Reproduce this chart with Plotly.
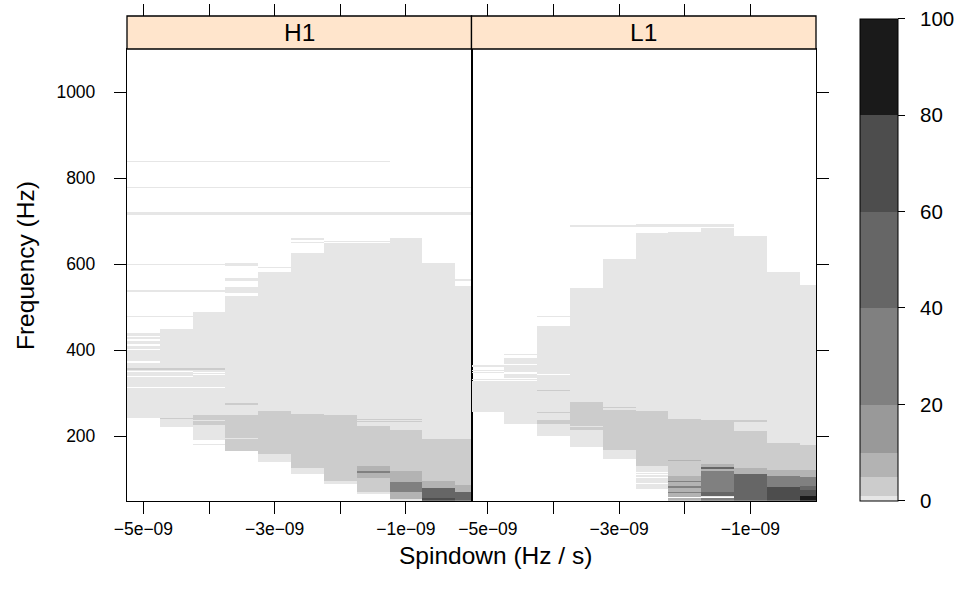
import numpy as np
import plotly.graph_objects as go

# ---------------- data ----------------
detectors = ["H1", "L1"]
spindown = [-5.0e-9, -4.5e-9, -4.0e-9, -3.5e-9, -3.0e-9, -2.5e-9,
            -2.0e-9, -1.5e-9, -1.0e-9, -0.5e-9, 0.0]
x_limits = [-5.25e-9, 0.0]
freq_min, freq_max, freq_step = 50, 1100, 1
freq_ticks = [200, 400, 600, 800, 1000]
spin_ticks = [-5e-9, -4e-9, -3e-9, -2e-9, -1e-9]
spin_ticklabels = ["\u22125e\u221209", "", "\u22123e\u221209", "", "\u22121e\u221209"]
level_breaks = [0, 1, 5, 10, 20, 40, 60, 80, 100]
level_colors = ["#E6E6E6", "#CCCCCC", "#B3B3B3", "#999999",
                "#808080", "#666666", "#4D4D4D", "#1A1A1A"]
colorbar_ticks = [0, 20, 40, 60, 80, 100]

# per spindown column: (freq_lo, freq_hi, value %) ; None = no data
H1_columns = [
    [(243, 400, 0.5), (404, 410, 0.5), (415, 422, 0.5), (426, 430, 0.5), (434, 441, 0.5),
     (374, 376, None), (370, 372, None), (349, 351, None), (337, 341, None)],
    [(222, 450, 0.5), (349, 351, None), (337, 341, None), (240, 243, 3)],
    [(192, 489, 0.5), (180, 182, 0.5), (227, 249, 3), (237, 239, 0.5),
     (342, 345, None), (348, 350, None)],
    [(165, 527, 0.5), (534, 547, 0.5), (562, 568, 0.5), (596, 603, 0.5),
     (274, 278, 3), (165, 250, 3), (242, 243, None), (236, 237, 0.5),
     (229, 230, 0.5), (221, 222, 0.5), (207, 209, 0.5), (195, 197, 0.5)],
    [(141, 582, 0.5), (591, 594, 0.5), (160, 260, 3)],
    [(113, 626, 0.5), (650, 652, 0.5), (656, 661, 0.5), (127, 253, 3)],
    [(90, 649, 0.5), (652, 654, 0.5), (97, 250, 3)],
    [(66, 649, 0.5), (652, 654, 0.5), (70, 225, 3), (239, 241, 3), (233, 235, 3),
     (104, 132, 7), (115, 119, 30)],
    [(50, 661, 0.5), (55, 216, 3), (239, 241, 3), (233, 235, 3),
     (95, 120, 7), (72, 95, 30), (55, 72, 7)],
    [(50, 603, 0.5), (50, 195, 3), (81, 97, 7), (58, 81, 50), (50, 58, 70)],
    [(50, 550, 0.5), (561, 566, 0.5), (50, 195, 3), (72, 88, 7), (50, 72, 50)],
]
# lines spanning several columns: (freq_lo, freq_hi, value, first_col, last_col)
H1_wide = [
    (838, 840, 0.5, 0, 7),
    (778, 780, 0.5, 0, 10),
    (714, 721, 0.5, 0, 10),
    (598, 601, 0.5, 0, 2),
    (536, 540, 0.5, 0, 2),
    (477, 480, 0.5, 0, 1),
    (379, 381, None, 0, 3),
    (313, 315, None, 0, 2),
    (355, 360, 3, 0, 2),
]

L1_columns = [
    [(256, 333, 0.5), (353, 355, 0.5), (362, 365, 0.5), (347, 349, 0.5), (300, 302, None)],
    [(230, 383, 0.5), (390, 392, 0.5), (366, 368, None), (358, 360, None),
     (346, 349, None), (334, 336, None)],
    [(201, 457, 0.5), (478, 480, 0.5), (342, 344, None), (305, 307, 3),
     (255, 257, 3), (230, 239, 3)],
    [(176, 545, 0.5), (225, 280, 3), (223, 225, 0.5), (215, 222, 3)],
    [(148, 612, 0.5), (267, 269, 3), (169, 262, 3)],
    [(79, 672, 0.5), (132, 260, 3), (116, 118, None), (110, 113, None),
     (104, 106, None), (90, 92, None)],
    [(50, 675, 0.5), (107, 241, 3), (143, 146, 7), (50, 107, 7), (94, 96, 30),
     (80, 84, 30), (68, 72, 30), (63, 65, 50), (57, 59, None)],
    [(50, 684, 0.5), (136, 239, 3), (129, 136, 7), (124, 128, 50), (119, 124, 7),
     (72, 119, 30), (62, 72, 50), (58, 60, None), (50, 57, 30)],
    [(50, 665, 0.5), (127, 213, 3), (233, 235, 3), (237, 239, 3), (113, 127, 7), (50, 113, 50)],
    [(50, 582, 0.5), (122, 185, 3), (108, 122, 7), (83, 108, 30), (50, 83, 70)],
    [(50, 552, 0.5), (123, 181, 3), (106, 123, 7), (86, 106, 30), (76, 86, 50),
     (62, 76, 70), (50, 62, 90)],
]
L1_wide = [
    (687, 690, 0.5, 3, 7),
    (692, 694, 0.5, 5, 7),
    (329, 331, None, 0, 1),
]

# ---------------- build grids ----------------
freq = np.arange(freq_min + freq_step / 2, freq_max, freq_step)


def build_grid(columns, wide):
    z = np.full((len(freq), len(spindown)), np.nan)
    for j, segs in enumerate(columns):
        for lo, hi, v in segs:
            m = (freq >= lo) & (freq <= hi)
            z[m, j] = np.nan if v is None else v
    for lo, hi, v, a, b in wide:
        m = (freq >= lo) & (freq <= hi)
        for j in range(a, b + 1):
            z[m, j] = np.nan if v is None else v
    return z


grids = {"H1": build_grid(H1_columns, H1_wide), "L1": build_grid(L1_columns, L1_wide)}

# discrete colour scale
cs = []
for i, c in enumerate(level_colors):
    cs.append([level_breaks[i] / 100, c])
    cs.append([level_breaks[i + 1] / 100, c])

# ---------------- layout geometry ----------------
W, H = 958, 589
px0, pmid, px1 = 127, 471.5, 816
py_top, py_bot = 49, 500.7
strip_top = 16
cb_top, cb_bot = 18.5, 500.7
FONT = "Liberation Sans, Arial, sans-serif"
TICK_SIZE = 17.5
TITLE_SIZE = 24.5

fig = go.Figure()
axes_ids = [("x", "y"), ("x2", "y2")]
for det, (xa, ya) in zip(detectors, axes_ids):
    fig.add_trace(go.Heatmap(x=spindown, y=freq, z=grids[det], coloraxis="coloraxis",
                             xaxis=xa, yaxis=ya, hoverinfo="skip"))
# helper empty traces so the top tick axes are drawn
fig.add_trace(go.Scatter(x=[None], y=[None], xaxis="x3", yaxis="y", showlegend=False))
fig.add_trace(go.Scatter(x=[None], y=[None], xaxis="x4", yaxis="y2", showlegend=False))

dom1 = [px0 / W, pmid / W]
dom2 = [pmid / W, px1 / W]
ydom = [1 - py_bot / H, 1 - py_top / H]

common_x = dict(range=x_limits, tickvals=spin_ticks, ticks="outside", ticklen=12,
                tickwidth=1, tickcolor="black", showgrid=False, zeroline=False,
                automargin=False,
                tickfont=dict(family=FONT, size=TICK_SIZE, color="black"))
fig.update_layout(
    width=W, height=H, margin=dict(l=0, r=0, t=0, b=0, autoexpand=False),
    paper_bgcolor="white", plot_bgcolor="white", showlegend=False,
    xaxis=dict(domain=dom1, anchor="y", ticktext=spin_ticklabels, showline=True,
               linecolor="black", linewidth=1.3, mirror=True, **common_x),
    xaxis2=dict(domain=dom2, anchor="y2", ticktext=spin_ticklabels, showline=True,
                linecolor="black", linewidth=1.3, mirror=True, **common_x),
    xaxis3=dict(overlaying="x", anchor="free", position=1 - strip_top / H, side="top",
                showticklabels=False, showline=False, **common_x),
    xaxis4=dict(overlaying="x2", anchor="free", position=1 - strip_top / H, side="top",
                showticklabels=False, showline=False, **common_x),
    yaxis=dict(domain=ydom, anchor="x", range=[freq_min, freq_max], tickvals=freq_ticks,
               ticks="outside", ticklen=12, tickwidth=1, tickcolor="black",
               showline=True, linecolor="black", linewidth=1.3, mirror=True,
               showgrid=False, zeroline=False, ticklabelstandoff=15, automargin=False,
               tickfont=dict(family=FONT, size=TICK_SIZE, color="black")),
    yaxis2=dict(domain=ydom, anchor="x2", range=[freq_min, freq_max], tickvals=freq_ticks,
                side="right", ticks="outside", ticklen=12, tickwidth=1, tickcolor="black",
                showticklabels=False, showline=True, linecolor="black", linewidth=1.3,
                mirror=True, showgrid=False, zeroline=False, automargin=False),
    coloraxis=dict(cmin=0, cmax=100, colorscale=cs,
                   colorbar=dict(x=860 / W, xanchor="left", xpad=0,
                                 y=1 - ((cb_top + cb_bot) / 2) / H, yanchor="middle", ypad=0,
                                 len=(cb_bot - cb_top) / H, lenmode="fraction",
                                 thickness=38, thicknessmode="pixels",
                                 outlinecolor="black", outlinewidth=1,
                                 ticks="outside", ticklen=7, tickcolor="black",
                                 tickvals=colorbar_ticks, showticklabels=False)),
)

# colour key labels (placed by value along the key)
for v in colorbar_ticks:
    frac = (v - level_breaks[0]) / (level_breaks[-1] - level_breaks[0])
    ypx = cb_bot - frac * (cb_bot - cb_top)
    fig.add_annotation(x=918 / W, y=1 - ypx / H, xref="paper", yref="paper",
                       text=str(v), showarrow=False, xanchor="left", yanchor="middle",
                       font=dict(family=FONT, size=20.5, color="black"))

# strips
for det, dom in zip(detectors, [dom1, dom2]):
    fig.add_shape(type="rect", xref="paper", yref="paper", x0=dom[0], x1=dom[1],
                  y0=1 - py_top / H, y1=1 - strip_top / H, fillcolor="#FFE5CC",
                  line=dict(color="black", width=1.3), layer="above")
    fig.add_annotation(x=(dom[0] + dom[1]) / 2, y=1 - (strip_top + py_top) / 2 / H,
                       xref="paper", yref="paper", text=det, showarrow=False,
                       font=dict(family=FONT, size=TITLE_SIZE, color="black"),
                       xanchor="center", yanchor="middle")

fig.add_annotation(x=495 / W, y=1 - 555 / H, xref="paper", yref="paper",
                   text="Spindown (Hz / s)", showarrow=False,
                   font=dict(family=FONT, size=TITLE_SIZE, color="black"),
                   xanchor="center", yanchor="middle")
fig.add_annotation(x=25 / W, y=1 - 266 / H, xref="paper", yref="paper",
                   text="Frequency (Hz)", showarrow=False, textangle=-90,
                   font=dict(family=FONT, size=TITLE_SIZE, color="black"),
                   xanchor="center", yanchor="middle")

fig.write_html("out.html")
